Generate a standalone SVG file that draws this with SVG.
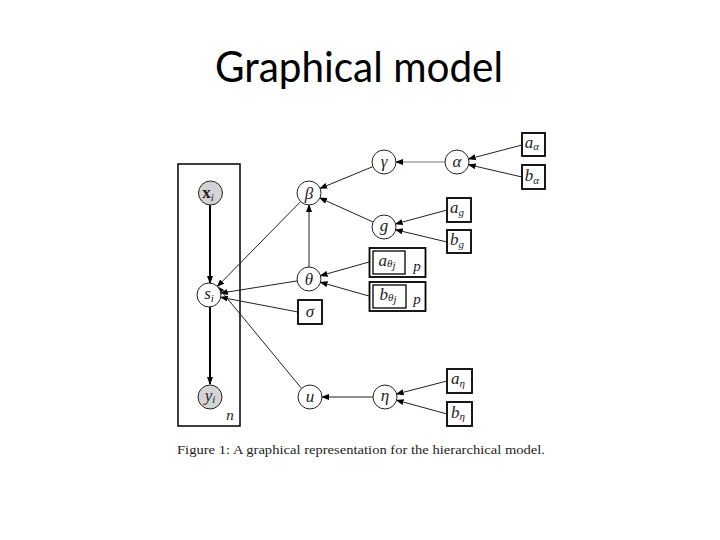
<svg xmlns="http://www.w3.org/2000/svg" width="720" height="540" viewBox="0 0 720 540">
<style>
.title{font-family:Lato,"Open Sans","Liberation Sans",sans-serif;font-size:43px;fill:#000}
.node{fill:#fff;stroke:#222;stroke-width:1}
.obs{fill:#d4d4d4;stroke:#222;stroke-width:1}
.box{fill:#fff;stroke:#000;stroke-width:1.8}
.plate{fill:none;stroke:#000;stroke-width:1.5}
.m{font-family:"Liberation Serif","DejaVu Serif",serif;font-style:italic;font-size:17px;fill:#222;text-anchor:middle}
.sub{font-size:11px}
.e{stroke:#222;stroke-width:1;fill:none;marker-end:url(#ah)}
.ethick{stroke:#000;stroke-width:2;fill:none;marker-end:url(#ah)}
.cap{font-family:"Liberation Serif","Times New Roman",serif;font-size:13px;fill:#222}
</style>
<defs>
<marker id="ah" markerUnits="userSpaceOnUse" markerWidth="8" markerHeight="6" refX="7" refY="3" orient="auto">
<path d="M0,0 L8,3 L0,6 Z" fill="#000"/>
</marker>
</defs>
<rect width="720" height="540" fill="#fff"/>
<text class="title" x="215" y="82" textLength="288" lengthAdjust="spacingAndGlyphs">Graphical model</text>

<g id="plate-n">
<rect class="plate" x="178" y="164" width="62" height="262"/>
<text class="m" x="230" y="420" style="font-size:15px">n</text>
</g>

<g id="connectors">
<line class="ethick" x1="210" y1="205" x2="210" y2="283"/>
<line class="ethick" x1="210" y1="307" x2="210" y2="384"/>
<line class="e" x1="445" y1="162" x2="396" y2="162" style="stroke:#777"/>
<line class="e" x1="372.9" y1="166.6" x2="320.1" y2="188.4"/>
<line class="e" x1="373.1" y1="222" x2="319.9" y2="198"/>
<line class="e" x1="522" y1="145" x2="468.6" y2="159"/>
<line class="e" x1="522" y1="177" x2="468.7" y2="164.7"/>
<line class="e" x1="447" y1="210" x2="395.6" y2="223.9"/>
<line class="e" x1="447" y1="242" x2="395.7" y2="229.8"/>
<line class="e" x1="369" y1="262" x2="320.5" y2="275.7"/>
<line class="e" x1="369" y1="296" x2="320.5" y2="282.3"/>
<line class="e" x1="309" y1="267" x2="309" y2="205"/>
<line class="e" x1="297.2" y1="280.9" x2="220.8" y2="293.1"/>
<line class="e" x1="298" y1="312" x2="220.8" y2="297.3"/>
<line class="e" x1="300.6" y1="201.6" x2="217.4" y2="286.4"/>
<line class="e" x1="301.6" y1="388.5" x2="217.4" y2="286.5"/>
<line class="e" x1="373" y1="397" x2="322" y2="397"/>
<line class="e" x1="447" y1="381" x2="396.6" y2="394"/>
<line class="e" x1="447" y1="414" x2="396.6" y2="400.2"/>
</g>

<g id="x_i"><circle class="obs" cx="210.5" cy="193" r="12"/><text class="m" x="208" y="198" style="font-style:normal;font-weight:bold">x<tspan class="sub" dy="3" style="font-style:italic;font-weight:normal">i</tspan></text></g>
<g id="s_i"><circle class="node" cx="209" cy="295" r="12"/><text class="m" x="209" y="299">s<tspan class="sub" dy="3">i</tspan></text></g>
<g id="y_i"><circle class="obs" cx="210" cy="397" r="12"/><text class="m" x="210" y="401">y<tspan class="sub" dy="2">i</tspan></text></g>

<g id="beta"><circle class="node" cx="309" cy="193" r="12"/><text class="m" x="309" y="199">β</text></g>
<g id="theta"><circle class="node" cx="309" cy="279" r="12"/><text class="m" x="309" y="285">θ</text></g>
<g id="sigma"><rect class="box" x="298" y="300" width="24" height="24"/><text class="m" x="310" y="317">σ</text></g>
<g id="u"><circle class="node" cx="310" cy="397" r="12"/><text class="m" x="310" y="402">u</text></g>

<g id="gamma"><circle class="node" cx="384" cy="162" r="12"/><text class="m" x="384" y="167">γ</text></g>
<g id="alpha"><circle class="node" cx="457" cy="162" r="12"/><text class="m" x="457" y="167">α</text></g>
<g id="g"><circle class="node" cx="384" cy="227" r="12"/><text class="m" x="384" y="231">g</text></g>
<g id="eta"><circle class="node" cx="385" cy="397" r="12"/><text class="m" x="385" y="401">η</text></g>

<g id="a_alpha"><rect class="box" x="522" y="133" width="23" height="23"/><text class="m" x="532" y="148">a<tspan class="sub" dy="2">α</tspan></text></g>
<g id="b_alpha"><rect class="box" x="522" y="165" width="23" height="24"/><text class="m" x="532" y="181">b<tspan class="sub" dy="3">α</tspan></text></g>
<g id="a_g"><rect class="box" x="447" y="198" width="24" height="24"/><text class="m" x="457" y="213">a<tspan class="sub" dy="3">g</tspan></text></g>
<g id="b_g"><rect class="box" x="447" y="230" width="24" height="23"/><text class="m" x="457" y="245">b<tspan class="sub" dy="3">g</tspan></text></g>

<g id="a_theta"><rect class="box" x="369.5" y="248" width="56" height="29"/><rect class="plate" x="373" y="251" width="32" height="23" style="stroke-width:1.3"/><text class="m" x="387" y="266">a<tspan class="sub" dy="1">θ</tspan><tspan class="sub" dy="2">j</tspan></text><text class="m" x="417" y="271" style="font-size:15px">p</text></g>
<g id="b_theta"><rect class="box" x="369.5" y="282" width="56" height="29"/><rect class="plate" x="373" y="285" width="33" height="23" style="stroke-width:1.3"/><text class="m" x="388" y="300">b<tspan class="sub" dy="1">θ</tspan><tspan class="sub" dy="2">j</tspan></text><text class="m" x="417" y="304" style="font-size:15px">p</text></g>

<g id="a_eta"><rect class="box" x="447" y="369" width="25" height="24"/><text class="m" x="458" y="384">a<tspan class="sub" dy="3">η</tspan></text></g>
<g id="b_eta"><rect class="box" x="447" y="402" width="25" height="24"/><text class="m" x="458" y="418">b<tspan class="sub" dy="2">η</tspan></text></g>

<text class="cap" x="177" y="454" textLength="368" lengthAdjust="spacingAndGlyphs">Figure 1: A graphical representation for the hierarchical model.</text>
</svg>
